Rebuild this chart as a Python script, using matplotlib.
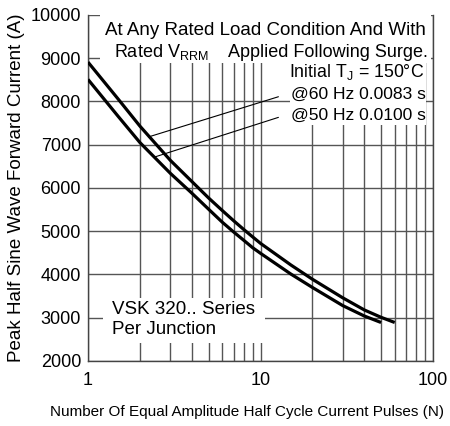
import matplotlib
matplotlib.use("Agg")
import matplotlib.pyplot as plt
from matplotlib.patches import Rectangle
from matplotlib.ticker import FixedLocator, NullFormatter

plt.rcParams['font.family'] = ['Liberation Sans', 'DejaVu Sans']
plt.rcParams['mathtext.fontset'] = 'custom'
plt.rcParams['mathtext.rm'] = 'Liberation Sans'
plt.rcParams['mathtext.it'] = 'Liberation Sans'

# Data
pulses_60 = [1, 1.5, 2, 3, 4, 5, 6, 7, 8, 9, 10, 15, 20, 30, 40, 50, 60]
current_60 = [8910, 8050, 7430, 6640, 6150, 5770, 5480, 5240, 5040, 4870, 4720,
              4220, 3890, 3460, 3180, 3010, 2890]
pulses_50 = [1, 1.5, 2, 3, 4, 5, 6, 7, 8, 9, 10, 15, 20, 30, 40, 50]
current_50 = [8510, 7650, 7050, 6340, 5880, 5510, 5210, 4980, 4790, 4620, 4490,
              4010, 3700, 3280, 3040, 2890]

y_ticks = [2000, 3000, 4000, 5000, 6000, 7000, 8000, 9000, 10000]
x_ticks = [1, 10, 100]
x_tick_labels = ['1', '10', '100']

fig = plt.figure(figsize=(4.5, 4.26), dpi=100)
ax = fig.add_axes([0.1956, 0.1526, 0.7666, 0.8122])
ax.set_xscale('log')
ax.set_xlim(1, 100)
ax.set_ylim(2000, 10000)

ax.set_yticks(y_ticks)
ax.set_yticklabels([str(v) for v in y_ticks])
ax.set_xticks(x_ticks)
ax.set_xticklabels(x_tick_labels)
minor = [m * d for d in (1, 10) for m in range(2, 10)]
ax.xaxis.set_minor_locator(FixedLocator(minor))
ax.xaxis.set_minor_formatter(NullFormatter())
ax.tick_params(axis='both', which='both', length=0, labelsize=13, colors='black', pad=5)
ax.tick_params(axis='x', pad=8)

gc = '#555555'
ax.grid(True, which='major', axis='both', color=gc, linewidth=1.0)
ax.grid(True, which='minor', axis='x', color=gc, linewidth=1.0)
ax.set_axisbelow(True)
ax.spines['top'].set_visible(False)
for s in ['left', 'bottom', 'right']:
    ax.spines[s].set_color('#444444')
    ax.spines[s].set_linewidth(1.0)

# white boxes behind text blocks
for (x0, y0, w, h) in [(0.035, 0.861, 0.958, 0.145),
                       (0.586, 0.682, 0.395, 0.181),
                       (0.043, 0.052, 0.470, 0.130)]:
    ax.add_patch(Rectangle((x0, y0), w, h, transform=ax.transAxes,
                           facecolor='white', edgecolor='none', zorder=1.5,
                           clip_on=False))

ax.plot(pulses_60, current_60, color='black', linewidth=2.3, zorder=3,
        solid_capstyle='butt', solid_joinstyle='round')
ax.plot(pulses_50, current_50, color='black', linewidth=2.3, zorder=3,
        solid_capstyle='butt', solid_joinstyle='round')

# leader lines
ax.annotate('', xy=(2.24, 7180), xytext=(12.7, 8110),
            arrowprops=dict(arrowstyle='-', color='black', lw=0.8,
                            shrinkA=0, shrinkB=0), zorder=2)
ax.annotate('', xy=(2.45, 6720), xytext=(12.7, 7633),
            arrowprops=dict(arrowstyle='-', color='black', lw=0.8,
                            shrinkA=0, shrinkB=0), zorder=2)

ax.text(0.515, 0.955, 'At Any Rated Load Condition And With',
        transform=ax.transAxes, ha='center', va='center', fontsize=13.5, zorder=4)
ax.text(0.075, 0.893, r'Rated V$_{\rm RRM}$', transform=ax.transAxes,
        ha='left', va='center', fontsize=13, zorder=4)
ax.text(0.985, 0.893, 'Applied Following Surge.', transform=ax.transAxes,
        ha='right', va='center', fontsize=13, zorder=4)
ax.text(0.975, 0.835, r'Initial T$_{\rm J}$ = 150°C', transform=ax.transAxes,
        ha='right', va='center', fontsize=12.8, zorder=4)
ax.text(0.98, 0.772, '@60 Hz 0.0083 s', transform=ax.transAxes,
        ha='right', va='center', fontsize=12.6, zorder=4)
ax.text(0.98, 0.710, '@50 Hz 0.0100 s', transform=ax.transAxes,
        ha='right', va='center', fontsize=12.6, zorder=4)
ax.text(0.07, 0.150, 'VSK 320.. Series', transform=ax.transAxes,
        ha='left', va='center', fontsize=13.5, zorder=4)
ax.text(0.07, 0.092, 'Per Junction', transform=ax.transAxes,
        ha='left', va='center', fontsize=13.5, zorder=4)

ax.set_ylabel('Peak Half Sine Wave Forward Current (A)', fontsize=13.5, labelpad=4)
fig.text(0.11, 0.033, 'Number Of Equal Amplitude Half Cycle Current Pulses (N)',
         ha='left', va='center', fontsize=11)

fig.savefig('out.png', dpi=100)
